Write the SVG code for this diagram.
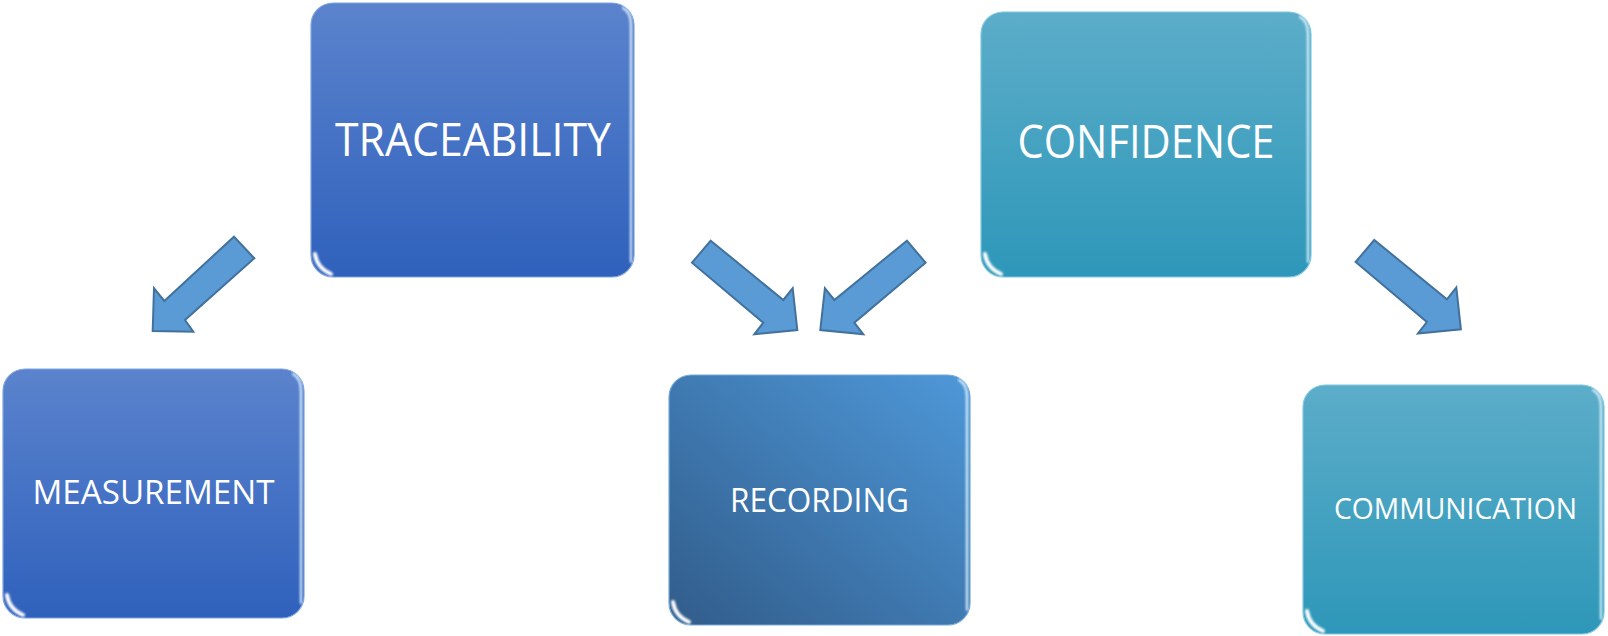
<svg xmlns="http://www.w3.org/2000/svg" width="1608" height="636" viewBox="0 0 1608 636">
<defs>
  <linearGradient id="gBlue" x1="0" y1="0" x2="0" y2="1">
    <stop offset="0" stop-color="#5B83CD"/>
    <stop offset="1" stop-color="#2F61BC"/>
  </linearGradient>
  <linearGradient id="gTeal" x1="0" y1="0" x2="0" y2="1">
    <stop offset="0" stop-color="#5CADC9"/>
    <stop offset="1" stop-color="#2E97B9"/>
  </linearGradient>
  <linearGradient id="gRec" x1="0" y1="1" x2="1" y2="0">
    <stop offset="0" stop-color="#315C8A"/>
    <stop offset="1" stop-color="#4E98D9"/>
  </linearGradient>
  <filter id="soft" x="-20%" y="-20%" width="140%" height="140%">
    <feGaussianBlur stdDeviation="0.9"/>
  </filter>
  <style>
    .box { stroke-width: 1.2; }
    .blue { fill: url(#gBlue); stroke: #7FA3DE; }
    .teal { fill: url(#gTeal); stroke: #80C8DE; }
    .rec { fill: url(#gRec); stroke: #76A9DA; }
    .hl { fill: none; stroke: #FFFFFF; stroke-opacity: 0.7; stroke-width: 3; stroke-linecap: round; filter: url(#soft); }
    .hr { fill: none; stroke: #E2F4FF; stroke-opacity: 0.95; stroke-width: 2.2; stroke-linecap: round; filter: url(#soft); }
    .shine { fill: none; stroke: #FFFFFF; stroke-opacity: 1; stroke-width: 4; stroke-linecap: round; filter: url(#soft); }
    .lbl { font-family: "Open Sans", "Liberation Sans", sans-serif; fill: #FFFFFF; text-anchor: middle; }
    .arrow { fill: #5B9BD5; stroke: #41719C; stroke-width: 2; stroke-linejoin: miter; }
  </style>
</defs>
<rect width="1608" height="636" fill="#FFFFFF"/>

<g id="connectors">
  <polygon class="arrow" points="234,236.7 254.3,258.3 185,320 193.3,331.7 152.7,331 154,288.3 164.3,301"/>
  <polygon class="arrow" points="710.7,240.7 783.3,300 792.7,288.3 797.3,330 754.3,334.3 763.3,322.7 692,262.7"/>
  <polygon class="arrow" points="906.9,240.7 834.3,300 824.9,288.3 820.3,330 863.3,334.3 854.3,322.7 925.6,262.7"/>
  <polygon class="arrow" points="1374.3,240 1446.9,299.3 1456.3,287.6 1460.9,329.3 1417.9,333.6 1426.9,322 1355.6,262"/>
</g>

<g id="traceability">
  <rect class="box blue" x="311" y="3" width="323" height="274" rx="22"/>
  <line class="hl" x1="326" y1="8" x2="619" y2="8"/>
  <path class="hr" d="M623,8 Q631,12 631,25 L631,262"/>
  <path class="shine" d="M315,254 Q317,268 331,274"/>
  <text class="lbl" x="473" y="156" font-size="46" textLength="276" lengthAdjust="spacingAndGlyphs">TRACEABILITY</text>
</g>

<g id="confidence">
  <rect class="box teal" x="981" y="12" width="330" height="265" rx="22"/>
  <line class="hl" x1="996" y1="17" x2="1296" y2="17"/>
  <path class="hr" d="M1300,17 Q1308,21 1308,34 L1308,262"/>
  <path class="shine" d="M985,254 Q987,268 1001,274"/>
  <text class="lbl" x="1146" y="158" font-size="46" textLength="257" lengthAdjust="spacingAndGlyphs">CONFIDENCE</text>
</g>

<g id="measurement">
  <rect class="box blue" x="3" y="369" width="301" height="249" rx="22"/>
  <line class="hl" x1="18" y1="374" x2="289" y2="374"/>
  <path class="hr" d="M293,374 Q301,378 301,391 L301,603"/>
  <path class="shine" d="M7,595 Q9,609 23,615"/>
  <text class="lbl" x="153.5" y="504" font-size="32" textLength="242" lengthAdjust="spacingAndGlyphs">MEASUREMENT</text>
</g>

<g id="recording">
  <rect class="box rec" x="669" y="375" width="301" height="250" rx="22"/>
  <line class="hl" x1="684" y1="380" x2="955" y2="380"/>
  <path class="hr" d="M959,380 Q967,384 967,397 L967,610"/>
  <path class="shine" d="M673,602 Q675,616 689,622"/>
  <text class="lbl" x="819.5" y="512" font-size="32" textLength="179" lengthAdjust="spacingAndGlyphs">RECORDING</text>
</g>

<g id="communication">
  <rect class="box teal" x="1303" y="385" width="301" height="249" rx="22"/>
  <line class="hl" x1="1318" y1="390" x2="1589" y2="390"/>
  <path class="hr" d="M1593,390 Q1601,394 1601,407 L1601,619"/>
  <path class="shine" d="M1307,611 Q1309,625 1323,631"/>
  <text class="lbl" x="1455.5" y="519" font-size="30" textLength="243" lengthAdjust="spacingAndGlyphs">COMMUNICATION</text>
</g>
</svg>
